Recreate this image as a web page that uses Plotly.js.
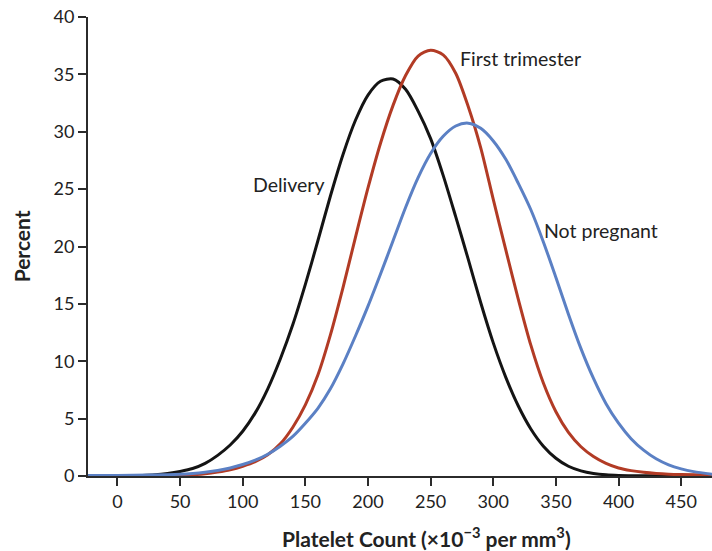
<!DOCTYPE html>
<html>
<head>
<meta charset="utf-8">
<script src="https://cdn.plot.ly/plotly-3.0.1.min.js"></script>
<style>html,body{margin:0;padding:0;background:#fff;overflow:hidden}#chart{width:712px;height:551px}</style>
</head>
<body>
<div id="chart"></div>
<script>
// Platelet count (x10^-3 per mm^3) sample positions and percentages
const deliveryX = [-24, 0, 20, 30, 40, 50, 60, 70, 80, 90, 100, 110, 120, 130, 140, 150, 160, 170, 180, 190, 200, 210, 220, 230, 240, 250, 260, 270, 280, 290, 300, 310, 320, 330, 340, 350, 360, 370, 380, 390, 400, 420, 475];
const deliveryY = [0.02, 0.02, 0.05, 0.1, 0.22, 0.4, 0.65, 1.1, 1.8, 2.7, 3.9, 5.5, 7.6, 10.2, 13.2, 16.7, 20.5, 24.4, 28.0, 31.0, 33.2, 34.4, 34.6, 33.7, 31.8, 29.4, 26.2, 22.6, 18.9, 15.1, 11.6, 8.6, 6.1, 4.1, 2.6, 1.55, 0.85, 0.45, 0.22, 0.1, 0.05, 0.02, 0.02];

const firstX = [-24, 0, 50, 60, 70, 80, 90, 100, 110, 120, 130, 140, 150, 160, 170, 180, 190, 200, 210, 220, 230, 240, 250, 260, 270, 280, 290, 300, 310, 320, 330, 340, 350, 360, 370, 380, 390, 400, 410, 420, 430, 440, 450, 475];
const firstY = [0.02, 0.02, 0.05, 0.1, 0.2, 0.35, 0.55, 0.85, 1.25, 1.85, 2.8, 4.25, 6.2, 8.8, 12.3, 16.4, 20.8, 25.1, 29.0, 32.3, 34.9, 36.6, 37.1, 36.7, 35.1, 32.2, 28.6, 24.1, 19.7, 15.4, 11.4, 8.1, 5.6, 3.8, 2.55, 1.7, 1.1, 0.7, 0.47, 0.32, 0.22, 0.16, 0.13, 0.08];

const notPregX = [-24, 0, 25, 50, 60, 70, 80, 90, 100, 110, 120, 130, 140, 150, 160, 170, 180, 190, 200, 210, 220, 230, 240, 250, 260, 270, 280, 290, 300, 310, 320, 330, 340, 350, 360, 370, 380, 390, 400, 410, 420, 430, 440, 450, 460, 475];
const notPregY = [0.05, 0.05, 0.08, 0.15, 0.22, 0.33, 0.48, 0.7, 1.0, 1.38, 1.9, 2.6, 3.45, 4.6, 5.9, 7.6, 9.75, 12.2, 14.8, 17.6, 20.5, 23.4, 26.0, 28.1, 29.6, 30.5, 30.75, 30.3, 29.2, 27.6, 25.5, 23.2, 20.4, 17.3, 14.1, 11.1, 8.5, 6.3, 4.6, 3.25, 2.25, 1.5, 0.97, 0.62, 0.38, 0.15];

const xTicks = [0, 50, 100, 150, 200, 250, 300, 350, 400, 450];
const yTicks = [0, 5, 10, 15, 20, 25, 30, 35, 40];

const seriesNames = ['Delivery', 'First trimester', 'Not pregnant'];
const seriesColors = ['#141414', '#b23b25', '#5b80c4'];

const FONT = 'Lato, "Open Sans", "DejaVu Sans", sans-serif';
const TXT = '#222222';
const AX = '#2b2b2b';

function tr(x, y, i) {
  return {
    x: x, y: y, type: 'scatter', mode: 'lines', name: seriesNames[i],
    line: {color: seriesColors[i], width: 3, shape: 'spline', smoothing: 0.8},
    hoverinfo: 'x+y+name', cliponaxis: true
  };
}

const data = [
  tr(deliveryX, deliveryY, 0),
  tr(firstX, firstY, 1),
  tr(notPregX, notPregY, 2)
];

const labelFont = {family: FONT, size: 19.5, color: TXT};
const titleFont = {family: FONT, size: 21, color: TXT};
const tickFont = {family: FONT, size: 18, color: TXT};

const layout = {
  width: 712, height: 551,
  margin: {l: 88, r: 0, t: 17, b: 75, pad: 0},
  paper_bgcolor: '#ffffff', plot_bgcolor: '#ffffff',
  showlegend: false,
  font: {family: FONT, size: 18, color: TXT},
  xaxis: {
    range: [-23.5, 474.6], tickmode: 'array', tickvals: xTicks,
    ticktext: xTicks.map(String),
    showline: true, linecolor: AX, linewidth: 2,
    ticks: 'outside', ticklen: 8, tickwidth: 2, tickcolor: AX,
    showgrid: false, zeroline: false,
    tickfont: tickFont
  },
  yaxis: {
    range: [0, 40], tickmode: 'array', tickvals: yTicks,
    ticktext: yTicks.map(String),
    showline: true, linecolor: AX, linewidth: 2,
    ticks: 'outside', ticklen: 8, tickwidth: 2, tickcolor: AX,
    showgrid: false, zeroline: false,
    tickfont: tickFont
  },
  annotations: [
    {text: 'Delivery', x: 107, y: 25.4, xref: 'x', yref: 'y', xanchor: 'left', yanchor: 'middle', showarrow: false, font: labelFont},
    {text: 'First trimester', x: 272, y: 36.4, xref: 'x', yref: 'y', xanchor: 'left', yanchor: 'middle', showarrow: false, font: labelFont},
    {text: 'Not pregnant', x: 338.8, y: 21.4, xref: 'x', yref: 'y', xanchor: 'left', yanchor: 'middle', showarrow: false, font: labelFont},
    {text: '<b>Platelet Count (×10<sup>−3</sup> per mm<sup>3</sup>)</b>', x: 0.543, y: -0.132, xref: 'paper', yref: 'paper', xanchor: 'center', yanchor: 'middle', showarrow: false, font: titleFont},
    {text: '<b>Percent</b>', x: -0.106, y: 0.5, xref: 'paper', yref: 'paper', xanchor: 'center', yanchor: 'middle', textangle: -90, showarrow: false, font: titleFont}
  ]
};

Plotly.newPlot('chart', data, layout, {displayModeBar: false, staticPlot: true});
</script>
</body>
</html>
